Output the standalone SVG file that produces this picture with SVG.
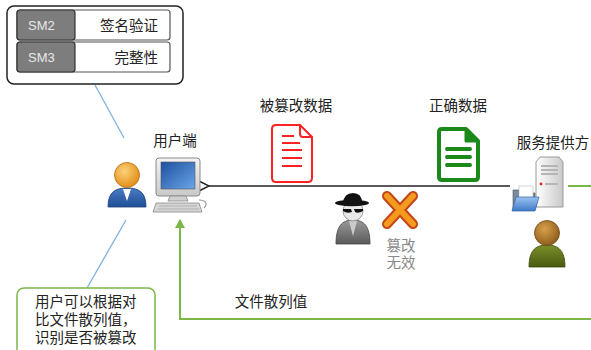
<svg xmlns="http://www.w3.org/2000/svg" width="591" height="350" viewBox="0 0 591 350">
  <defs>
    <style>
      .t { font-family: "Liberation Sans", "Noto Sans CJK SC", sans-serif; font-size: 14.5px; fill: #222; }
      .sm { font-family: "Liberation Sans", "Noto Sans", sans-serif; font-size: 13px; fill: #e8e8e8; }
      .gray { fill: #888; }
      .cell-g { fill: #7d7d7d; stroke: #333; stroke-width: 1.2; }
      .cell-w { fill: #fff; stroke: #555; stroke-width: 1.2; }
      .conn-black { stroke: #222; stroke-width: 1.5; fill: none; }
      .conn-green { stroke: #7ab648; stroke-width: 2; fill: none; }
      .conn-blue { stroke: #7fb0e0; stroke-width: 1.3; fill: none; }
    </style>
    <linearGradient id="screen" x1="0" y1="0" x2="1" y2="1">
      <stop offset="0" stop-color="#1e4fa0"/>
      <stop offset="1" stop-color="#6aa6e8"/>
    </linearGradient>
    <linearGradient id="frame" x1="0" y1="0" x2="0" y2="1">
      <stop offset="0" stop-color="#f4f4f4"/>
      <stop offset="1" stop-color="#c8c8c8"/>
    </linearGradient>
    <radialGradient id="headOrange" cx="0.4" cy="0.35" r="0.7">
      <stop offset="0" stop-color="#fcd27a"/>
      <stop offset="1" stop-color="#e08a12"/>
    </radialGradient>
    <radialGradient id="headBrown" cx="0.4" cy="0.35" r="0.7">
      <stop offset="0" stop-color="#d7a04a"/>
      <stop offset="1" stop-color="#8a5a1a"/>
    </radialGradient>
    <linearGradient id="bodyBlue" x1="0" y1="0" x2="0" y2="1">
      <stop offset="0" stop-color="#4a7cc4"/>
      <stop offset="1" stop-color="#1f4f95"/>
    </linearGradient>
    <linearGradient id="bodyOlive" x1="0" y1="0" x2="0" y2="1">
      <stop offset="0" stop-color="#7a8f2a"/>
      <stop offset="1" stop-color="#4a5a12"/>
    </linearGradient>
    <linearGradient id="bodyGray" x1="0" y1="0" x2="0" y2="1">
      <stop offset="0" stop-color="#9a9a9a"/>
      <stop offset="1" stop-color="#5a5a5a"/>
    </linearGradient>
    <linearGradient id="tower" x1="0" y1="0" x2="1" y2="0">
      <stop offset="0" stop-color="#ffffff"/>
      <stop offset="1" stop-color="#c9c9c9"/>
    </linearGradient>
    <linearGradient id="folder" x1="0" y1="0" x2="0" y2="1">
      <stop offset="0" stop-color="#9cc3f0"/>
      <stop offset="1" stop-color="#3f7ac8"/>
    </linearGradient>
    <marker id="openArrow" viewBox="0 0 12 12" refX="1" refY="6" markerWidth="12" markerHeight="12" markerUnits="userSpaceOnUse" orient="auto">
      <path d="M11,1 L1,6 L11,11" fill="none" stroke="#222" stroke-width="1.5"/>
    </marker>
    <marker id="greenArrow" viewBox="0 0 10 10" refX="5" refY="1" markerWidth="10" markerHeight="10" markerUnits="userSpaceOnUse" orient="0">
      <path d="M0,9 L5,0 L10,9 Z" fill="#7ab648"/>
    </marker>
  </defs>

  <rect width="591" height="350" fill="#fff"/>

  <!-- connectors -->
  <g id="connectors">
    <line class="conn-blue" x1="95" y1="85" x2="124" y2="138"/>
    <line class="conn-blue" x1="126" y1="220" x2="87" y2="288"/>
    <line class="conn-black" x1="510" y1="186" x2="209" y2="186" marker-end="url(#openArrow)"/>
    <path class="conn-green" d="M591,319 H180 V220" marker-end="url(#greenArrow)"/>
    <line class="conn-green" x1="568" y1="186" x2="591" y2="186"/>
  </g>

  <!-- algorithm table -->
  <g id="algo-box">
    <rect x="7" y="6" width="176" height="78" rx="7" fill="#fff" stroke="#222" stroke-width="1.5"/>
    <rect class="cell-w" x="17" y="10" width="153" height="30" rx="3"/>
    <rect class="cell-g" x="17" y="10" width="58" height="30" rx="3"/>
    <text class="sm" x="28" y="30">SM2</text>
    <text class="t" x="158" y="30.5" text-anchor="end">签名验证</text>
    <rect class="cell-w" x="17" y="42" width="153" height="30" rx="3"/>
    <rect class="cell-g" x="17" y="42" width="58" height="30" rx="3"/>
    <text class="sm" x="28" y="62">SM3</text>
    <text class="t" x="158" y="62.5" text-anchor="end">完整性</text>
  </g>

  <!-- user -->
  <g id="user">
    <path d="M108,207 C108,193 114,188 127,188 C140,188 146,193 146,207 Z" fill="url(#bodyBlue)" stroke="#1a3f78" stroke-width="0.8"/>
    <path d="M123,189 L127,201 L131,189 Z" fill="#fff"/>
    <circle cx="127" cy="175" r="12.5" fill="url(#headOrange)" stroke="#b86a0c" stroke-width="0.8"/>
  </g>

  <!-- user terminal -->
  <g id="terminal">
    <text class="t" x="175" y="146" text-anchor="middle">用户端</text>
    <rect x="156" y="158" width="44" height="38" rx="3" fill="url(#frame)" stroke="#8a8a8a" stroke-width="1"/>
    <rect x="161" y="162" width="34" height="27" fill="url(#screen)" stroke="#555" stroke-width="0.6"/>
    <path d="M170,196 L186,196 L188,201 L168,201 Z" fill="#cfcfcf" stroke="#8a8a8a" stroke-width="0.8"/>
    <path d="M156,203 L199,203 L202,212 L153,212 Z" fill="#d6d6d6" stroke="#8a8a8a" stroke-width="0.8"/>
    <path d="M159,206 H197 M158,209 H199" stroke="#a8a8a8" stroke-width="0.8"/>
    <path d="M199,200 C206,200 208,204 204,208" fill="none" stroke="#999" stroke-width="1.2"/>
  </g>

  <!-- tampered data -->
  <g id="tampered-data">
    <text class="t" x="296" y="111" text-anchor="middle">被篡改数据</text>
    <path d="M276,125 H300 L312,137 V178 Q312,182 308,182 H276 Q272,182 272,178 V129 Q272,125 276,125 Z" fill="#fff" stroke="#f22" stroke-width="2"/>
    <path d="M300,125 V134 Q300,137 303,137 H312" fill="none" stroke="#f22" stroke-width="2"/>
    <path d="M282,136 H294 M282,143 H300 M282,150 H302 M282,158 H302 M282,166 H302" stroke="#f22" stroke-width="1.8"/>
  </g>

  <!-- correct data -->
  <g id="correct-data">
    <text class="t" x="458" y="111" text-anchor="middle">正确数据</text>
    <path d="M442,129 H466 L478,141 V177 Q478,180 475,180 H442 Q439,180 439,177 V132 Q439,129 442,129 Z" fill="#fff" stroke="#1b8a1b" stroke-width="4" stroke-linejoin="round"/>
    <path d="M466,129 V141 H478 Z" fill="#1b8a1b" stroke="#1b8a1b" stroke-width="3" stroke-linejoin="round"/>
    <path d="M447,149 H470 M447,157 H470 M447,165 H470" stroke="#1b8a1b" stroke-width="4" stroke-linecap="round"/>
  </g>

  <!-- attacker -->
  <g id="attacker">
    <path d="M336,244 C336,226 342,220 353,220 C364,220 370,226 370,244 Z" fill="url(#bodyGray)" stroke="#444" stroke-width="0.8"/>
    <path d="M349,221 L353,236 L357,221 Z" fill="#ccc"/>
    <circle cx="353" cy="211" r="10" fill="#e8e8e8" stroke="#888" stroke-width="0.8"/>
    <path d="M343,209 H351 L352,212 Q347,214 343,211 Z" fill="#111"/>
    <path d="M354,209 H363 L363,211 Q358,214 355,212 Z" fill="#111"/>
    <ellipse cx="352" cy="203" rx="17" ry="3.2" fill="#111"/>
    <path d="M343,203 Q344,193 353,193 Q362,193 362,203 Z" fill="#111"/>
  </g>

  <!-- tamper invalid mark -->
  <g id="tamper-invalid">
    <path d="M387,196 L413,224 M413,196 L387,224" stroke="#c2461a" stroke-width="10" stroke-linecap="round"/>
    <path d="M387,196 L413,224 M413,196 L387,224" stroke="#f59a1e" stroke-width="6" stroke-linecap="round"/>
    <text class="t gray" x="401" y="251" text-anchor="middle">篡改</text>
    <text class="t gray" x="401" y="268" text-anchor="middle">无效</text>
  </g>

  <!-- service provider -->
  <g id="provider">
    <text class="t" x="553" y="148" text-anchor="middle">服务提供方</text>
    <path d="M536,162 L540,157 L559,157 L563,162 V207 H536 Z" fill="url(#tower)" stroke="#9a9a9a" stroke-width="1"/>
    <path d="M541,166 H558 M541,170 H558 M541,174 H558 M545,184 H558" stroke="#b5b5b5" stroke-width="2"/>
    <circle cx="541" cy="184" r="1.4" fill="#e02020"/>
    <path d="M513,190 H521 L523,193 H535 V210 H513 Z" fill="#7a8aa0" stroke="#555" stroke-width="0.6"/>
    <path d="M519,186 H533 V200 H519 Z" fill="#fff" stroke="#aaa" stroke-width="0.5"/>
    <path d="M516,197 H539 L535,211 H512 Z" fill="url(#folder)" stroke="#2f62a8" stroke-width="0.7"/>
  </g>

  <!-- provider person -->
  <g id="provider-person">
    <path d="M529,267 C529,251 535,245 547,245 C559,245 565,251 565,267 Z" fill="url(#bodyOlive)" stroke="#3a4a0a" stroke-width="0.8"/>
    <circle cx="547" cy="233" r="12.5" fill="url(#headBrown)" stroke="#6e4510" stroke-width="0.8"/>
  </g>

  <!-- hash label -->
  <g id="hash-label">
    <text class="t" x="271" y="307" text-anchor="middle">文件散列值</text>
  </g>

  <!-- note -->
  <g id="note">
    <rect x="17" y="288" width="138" height="70" rx="7" fill="#fff" stroke="#7ab648" stroke-width="1.5"/>
    <text class="t" x="35" y="307">用户可以根据对</text>
    <text class="t" x="35" y="325">比文件散列值，</text>
    <text class="t" x="35" y="343">识别是否被篡改</text>
  </g>
</svg>
